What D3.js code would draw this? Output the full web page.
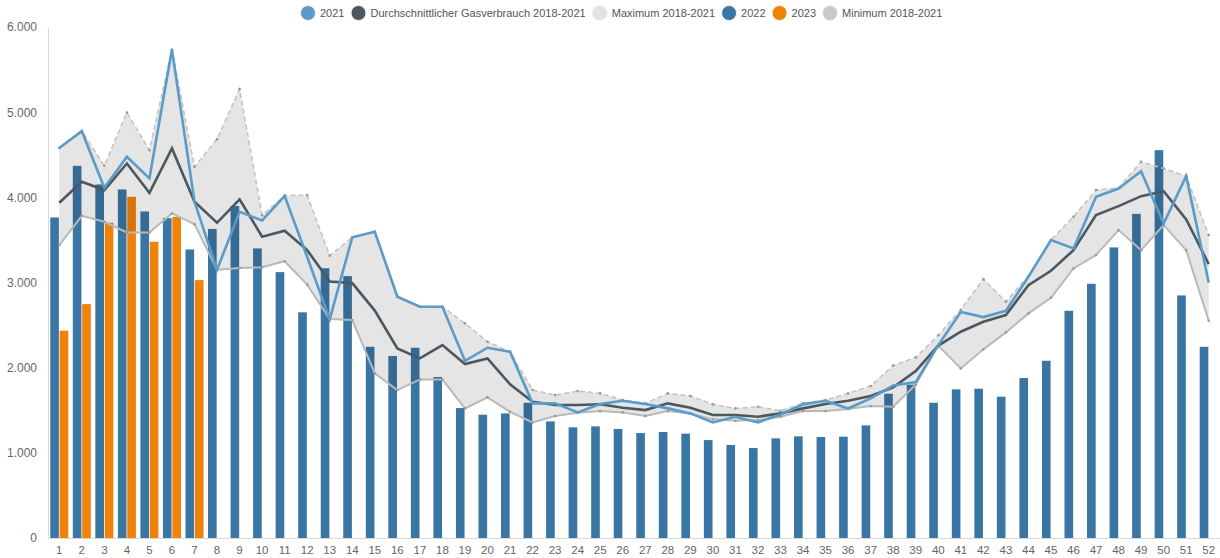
<!DOCTYPE html>
<html>
<head>
<meta charset="utf-8">
<script src="https://cdn.jsdelivr.net/npm/d3@7"></script>
<style>
  body { margin: 0; background: #fff; }
  svg text { font-family: "Liberation Sans", Arial, sans-serif; }
</style>
</head>
<body>
<div id="chart"></div>
<script>
// Weeks 1..52
const weeks = d3.range(1, 53);

// Gas consumption per calendar week
const y2021 = [4580, 4777, 4112, 4476, 4222, 5735, 3950, 3150, 3830, 3728, 4016, 3300, 2570,
  3530, 3595, 2833, 2715, 2715, 2081, 2234, 2187, 1581, 1581, 1475, 1574, 1612,
  1574, 1522, 1463, 1357, 1424, 1357, 1451, 1569, 1612, 1520, 1639, 1790, 1830,
  2265, 2653, 2594, 2668, 3067, 3498, 3400, 4006, 4104, 4307, 3693, 4249, 2997];
const avg1821 = [3936, 4182, 4085, 4397, 4053, 4574, 3948, 3701, 3977, 3537, 3607, 3380, 3012,
  2993, 2670, 2226, 2109, 2265, 2042, 2109, 1804, 1600, 1561, 1561, 1570, 1530,
  1502, 1581, 1530, 1444, 1444, 1424, 1463, 1522, 1574, 1612, 1667, 1768, 1960,
  2260, 2422, 2539, 2617, 2969, 3138, 3380, 3791, 3897, 4014, 4073, 3740, 3216];
const max1821 = [4580, 4777, 4370, 4996, 4554, 5735, 4358, 4683, 5270, 3790, 4020, 4026, 3315,
  3530, 3595, 2833, 2715, 2715, 2520, 2304, 2187, 1737, 1678, 1725, 1698, 1620,
  1580, 1698, 1667, 1569, 1522, 1541, 1494, 1581, 1620, 1698, 1784, 2025, 2120,
  2380, 2680, 3040, 2774, 3075, 3498, 3771, 4085, 4110, 4417, 4339, 4249, 3556];
const min1821 = [3439, 3783, 3713, 3588, 3588, 3811, 3685, 3150, 3170, 3180, 3250, 2975, 2570,
  2559, 1933, 1737, 1862, 1862, 1522, 1651, 1482, 1357, 1432, 1471, 1490, 1475,
  1432, 1490, 1463, 1393, 1377, 1385, 1424, 1490, 1490, 1515, 1549, 1541, 1800,
  2260, 1991, 2215, 2414, 2637, 2821, 3165, 3322, 3615, 3380, 3674, 3380, 2551];
const y2022 = [3764, 4370, 4151, 4092, 3834, 3756, 3388, 3629, 3899, 3400, 3122, 2650, 3167,
  3075, 2245, 2136, 2234, 1890, 1526, 1448, 1463, 1588, 1369, 1299, 1311, 1280,
  1232, 1244, 1225, 1150, 1092, 1056, 1170, 1194, 1186, 1190, 1322, 1694, 1800,
  1588, 1745, 1753, 1659, 1878, 2081, 2668, 2985, 3412, 3806, 4554, 2848, 2245];
const y2023 = [2433, 2746, 3701, 4006, 3478, 3771, 3028];

const yTicks = [0, 1000, 2000, 3000, 4000, 5000, 6000];

const legendItems = [
  { name: "2021", color: "#5a9bc8" },
  { name: "Durchschnittlicher Gasverbrauch 2018-2021", color: "#4b5860" },
  { name: "Maximum 2018-2021", color: "#e3e3e3" },
  { name: "2022", color: "#3a76a4" },
  { name: "2023", color: "#f08109" },
  { name: "Minimum 2018-2021", color: "#c9c9c9" }
];

const W = 1220, H = 558;
const margin = { top: 27, right: 0, bottom: 20, left: 48 };

const svg = d3.select("#chart").append("svg")
  .attr("width", W)
  .attr("height", H);

const de = d3.formatLocale({ decimal: ",", thousands: ".", grouping: [3], currency: ["", " €"] });
const fmt = de.format(",");

// Scales
const x = d3.scaleBand()
  .domain(weeks)
  .range([margin.left, W - margin.right])
  .paddingInner(0.2)
  .paddingOuter(0.1);
const xSub = d3.scaleBand()
  .domain(["2022", "2023"])
  .range([0, x.bandwidth()])
  .paddingInner(0.08);
const y = d3.scaleLinear()
  .domain([0, 6000])
  .range([H - margin.bottom, margin.top]);
const cx = w => x(w) + x.bandwidth() / 2;

// Axes
const yAxis = svg.append("g")
  .attr("transform", `translate(${margin.left},0)`)
  .call(d3.axisLeft(y).tickValues(yTicks).tickFormat(fmt).tickSize(0).tickPadding(11));
yAxis.select(".domain").attr("stroke", "#d9d9d9");
yAxis.selectAll("text").attr("fill", "#666").attr("font-size", 12);

const xAxis = svg.append("g")
  .attr("transform", `translate(0,${y(0)})`)
  .call(d3.axisBottom(x).tickSize(0).tickPadding(8));
xAxis.select(".domain").attr("stroke", "#d9d9d9");
xAxis.selectAll("text").attr("fill", "#666").attr("font-size", 11.5);

// Bars 2022 / 2023
svg.append("g").selectAll("rect")
  .data(weeks.map((w, i) => ({ w, v: y2022[i] })))
  .join("rect")
  .attr("x", d => x(d.w) + xSub("2022"))
  .attr("width", xSub.bandwidth())
  .attr("y", d => y(d.v))
  .attr("height", d => y(0) - y(d.v))
  .attr("fill", "#3a76a4");

svg.append("g").selectAll("rect")
  .data(y2023.map((v, i) => ({ w: weeks[i], v })))
  .join("rect")
  .attr("x", d => x(d.w) + xSub("2023"))
  .attr("width", xSub.bandwidth())
  .attr("y", d => y(d.v))
  .attr("height", d => y(0) - y(d.v))
  .attr("fill", "#f08109");

// Min / max band
const bandData = weeks.map((w, i) => ({ w, lo: min1821[i], hi: max1821[i] }));
svg.append("path")
  .datum(bandData)
  .attr("fill", "rgba(0,0,0,0.1)")
  .attr("d", d3.area().x(d => cx(d.w)).y0(d => y(d.lo)).y1(d => y(d.hi)));

svg.append("path")
  .datum(bandData)
  .attr("fill", "none")
  .attr("stroke", "#c4c4c4")
  .attr("stroke-width", 1.6)
  .attr("stroke-dasharray", "5,3")
  .attr("d", d3.line().x(d => cx(d.w)).y(d => y(d.hi)));

svg.append("path")
  .datum(bandData)
  .attr("fill", "none")
  .attr("stroke", "#b9b9b9")
  .attr("stroke-width", 2)
  .attr("d", d3.line().x(d => cx(d.w)).y(d => y(d.lo)));

// small markers on the band edges
svg.append("g").selectAll("circle")
  .data(bandData.flatMap(d => [{ w: d.w, v: d.lo }, { w: d.w, v: d.hi }]))
  .join("circle")
  .attr("cx", d => cx(d.w))
  .attr("cy", d => y(d.v))
  .attr("r", 1.3)
  .attr("fill", "#999");

// Lines
const line = d3.line().x((d, i) => cx(weeks[i])).y(d => y(d));
svg.append("path")
  .datum(avg1821)
  .attr("fill", "none")
  .attr("stroke", "#4b5860")
  .attr("stroke-width", 2.6)
  .attr("d", line);
svg.append("path")
  .datum(y2021)
  .attr("fill", "none")
  .attr("stroke", "#5a9bc8")
  .attr("stroke-width", 2.6)
  .attr("d", line);

// Legend
const legend = svg.append("g");
let pos = 0;
const items = legend.selectAll("g")
  .data(legendItems)
  .join("g");
items.append("circle")
  .attr("r", 7.5)
  .attr("fill", d => d.color)
  .attr("stroke", "#f2f2f2")
  .attr("stroke-width", 1);
items.append("text")
  .attr("x", 12)
  .attr("dy", "0.35em")
  .attr("font-size", 11)
  .attr("fill", "#555")
  .text(d => d.name);
items.each(function () {
  const g = d3.select(this);
  g.attr("transform", `translate(${pos},0)`);
  pos += 12 + g.select("text").node().getComputedTextLength() + 14;
});
// first circle centre sits at x=308 in the original
legend.attr("transform", "translate(308,13)");
</script>
</body>
</html>
